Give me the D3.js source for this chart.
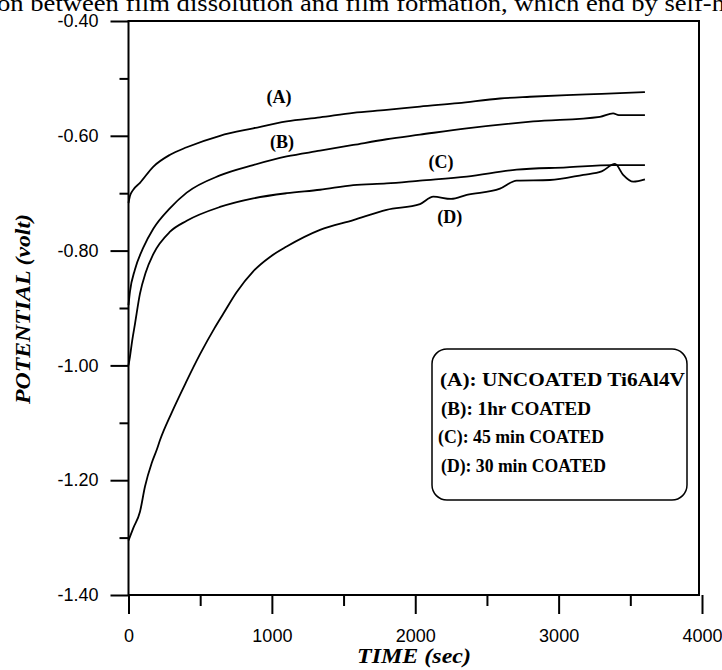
<!DOCTYPE html>
<html><head><meta charset="utf-8">
<script src="https://cdn.jsdelivr.net/npm/d3@7"></script>
<style>html,body{margin:0;padding:0;background:#fff;overflow:hidden}</style>
</head><body>
<svg id="chart" width="722" height="670"></svg>
<script>
// ---- data ----
const xTicks = [0, 1000, 2000, 3000, 4000];
const xMinorTicks = [500, 1500, 2500, 3500];
const yTicks = [-0.40, -0.60, -0.80, -1.00, -1.20, -1.40];
const yMinorTicks = [-0.50, -0.70, -0.90, -1.10, -1.30];

const timeA = [0, 10, 30, 80, 172, 290, 406, 638, 870, 1103, 1336, 1568, 1800, 2033, 2300, 2591, 2800, 3056, 3300, 3602];
const potA  = [-0.717, -0.705, -0.695, -0.682, -0.654, -0.633, -0.620, -0.600, -0.587, -0.575, -0.568, -0.560, -0.555, -0.549, -0.543, -0.535, -0.532, -0.529, -0.527, -0.524];

const timeB = [0, 10, 45, 103, 173, 290, 406, 638, 870, 1103, 1336, 1568, 1800, 2033, 2359, 2823, 3288, 3380, 3420, 3602];
const potB  = [-0.895, -0.872, -0.833, -0.795, -0.762, -0.726, -0.699, -0.669, -0.651, -0.636, -0.626, -0.616, -0.606, -0.598, -0.587, -0.575, -0.567, -0.561, -0.564, -0.564];

const timeC = [0, 10, 25, 45, 80, 120, 173, 290, 406, 638, 870, 1103, 1336, 1568, 1800, 2033, 2359, 2707, 3056, 3381, 3602];
const potC  = [-1.00, -0.985, -0.958, -0.928, -0.875, -0.838, -0.806, -0.767, -0.748, -0.724, -0.709, -0.700, -0.694, -0.686, -0.683, -0.678, -0.671, -0.659, -0.655, -0.651, -0.651];

const timeD = [0, 34, 80, 115, 162, 197, 220, 300, 400, 500, 600, 661, 755, 870, 987, 1103, 1336, 1568, 1800, 2033, 2126, 2250, 2359, 2591, 2707, 2939, 3172, 3300, 3393, 3450, 3521, 3602];
const potD  = [-1.305, -1.283, -1.255, -1.211, -1.170, -1.147, -1.130, -1.083, -1.030, -0.980, -0.935, -0.910, -0.872, -0.836, -0.811, -0.793, -0.764, -0.747, -0.729, -0.719, -0.706, -0.710, -0.703, -0.692, -0.678, -0.677, -0.668, -0.662, -0.649, -0.668, -0.680, -0.676];

const seriesNames = ["(A)", "(B)", "(C)", "(D)"];
const labelTime = [1050, 1070, 2180, 2240];
const labelPot = [-0.543, -0.621, -0.656, -0.752];
const legendLabels = ["(A): UNCOATED Ti6Al4V", "(B): 1hr COATED", "(C): 45 min COATED", "(D): 30 min COATED"];

// ---- layout ----
const svg = d3.select("#chart");
const L = 128.5, T = 21, B = 595, R = 699;
const x = d3.scaleLinear().domain([0, 4000]).range([L, 702]);
const y = d3.scaleLinear().domain([-0.40, -1.40]).range([T, B]);
const serif = "'Liberation Serif','Times New Roman',serif";
const sans = "'Liberation Sans',Arial,sans-serif";

// top clipped caption text
svg.append("text").attr("x", -3).attr("y", 11)
  .attr("font-family", serif).attr("font-size", 24)
  .attr("textLength", 728).attr("lengthAdjust", "spacingAndGlyphs")
  .text("on between film dissolution and film formation, which end by self-h");

// frame
svg.append("path")
  .attr("d", `M${L},${T}H${R}V${B}H${L}Z`)
  .attr("fill", "none").attr("stroke", "#000").attr("stroke-width", 2);

// y axis
const yAxis = d3.axisLeft(y).tickValues(yTicks).tickSize(18).tickPadding(12)
  .tickFormat(d => d3.format(".2f")(d).replace("−", "-"));
const gy = svg.append("g").attr("transform", `translate(${L},0)`).call(yAxis);
gy.select(".domain").remove();
gy.selectAll(".tick line").attr("stroke", "#000").attr("stroke-width", 2);
gy.selectAll(".tick text").attr("font-family", sans).attr("font-size", 18).attr("fill", "#000");
const gy2 = svg.append("g").attr("transform", `translate(${L},0)`)
  .call(d3.axisLeft(y).tickValues(yMinorTicks).tickSize(9).tickFormat(""));
gy2.select(".domain").remove();
gy2.selectAll(".tick line").attr("stroke", "#000").attr("stroke-width", 2);

// x axis
const xAxis = d3.axisBottom(x).tickValues(xTicks).tickSize(19).tickPadding(15).tickFormat(d3.format("d"));
const gx = svg.append("g").attr("transform", `translate(0,${B})`).call(xAxis);
gx.select(".domain").remove();
gx.selectAll(".tick line").attr("stroke", "#000").attr("stroke-width", 2);
gx.selectAll(".tick text").attr("font-family", sans).attr("font-size", 18).attr("fill", "#000");
const gx2 = svg.append("g").attr("transform", `translate(0,${B})`)
  .call(d3.axisBottom(x).tickValues(xMinorTicks).tickSize(11).tickFormat(""));
gx2.select(".domain").remove();
gx2.selectAll(".tick line").attr("stroke", "#000").attr("stroke-width", 2);

// axis titles
svg.append("text").attr("x", 357).attr("y", 663)
  .attr("font-family", serif).attr("font-size", 21)
  .attr("font-weight", "bold").attr("font-style", "italic")
  .attr("textLength", 114).attr("lengthAdjust", "spacingAndGlyphs").text("TIME (sec)");
svg.append("text").attr("transform", "translate(30,404) rotate(-90)")
  .attr("font-family", serif).attr("font-size", 21)
  .attr("font-weight", "bold").attr("font-style", "italic")
  .attr("textLength", 190).attr("lengthAdjust", "spacingAndGlyphs").text("POTENTIAL (volt)");

// curves
const line = d3.line().x(d => x(d[0])).y(d => y(d[1])).curve(d3.curveMonotoneX);
const series = [[timeA, potA], [timeB, potB], [timeC, potC], [timeD, potD]];
series.forEach(([t, p]) => {
  svg.append("path").datum(t.map((v, i) => [v, p[i]]))
    .attr("d", line).attr("fill", "none").attr("stroke", "#000").attr("stroke-width", 1.8);
});

// curve labels
seriesNames.forEach((n, i) => {
  svg.append("text").attr("x", x(labelTime[i])).attr("y", y(labelPot[i]))
    .attr("text-anchor", "middle").attr("font-family", serif)
    .attr("font-size", 18).attr("font-weight", "bold").text(n);
});

// legend
svg.append("rect").attr("x", 432).attr("y", 349).attr("width", 255).attr("height", 151)
  .attr("rx", 15).attr("fill", "#fff").attr("stroke", "#000").attr("stroke-width", 1.5);
const legX = [440, 441, 438, 441];
const legW = [245, 150, 166, 165];
legendLabels.forEach((s, i) => {
  svg.append("text").attr("x", legX[i]).attr("y", 386 + i * 28.5)
    .attr("font-family", serif).attr("font-size", 18)
    .attr("font-weight", "bold").attr("textLength", legW[i]).attr("lengthAdjust", "spacingAndGlyphs").text(s);
});
</script>
</body></html>
